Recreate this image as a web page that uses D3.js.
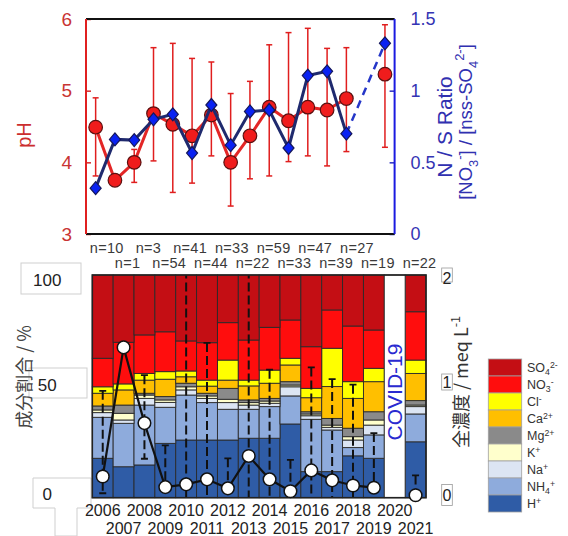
<!DOCTYPE html>
<html><head><meta charset="utf-8">
<script src="https://cdn.jsdelivr.net/npm/d3@7"></script>
<style>
body{margin:0;background:#fff;}
svg{display:block;font-family:"Liberation Sans",Arial,sans-serif;}
</style>
</head><body>
<svg id="c" width="568" height="536"></svg>
<script>
// ---------------- DATA ----------------
const years = ["2006","2007","2008","2009","2010","2011","2012","2013","2014","2015","2016","2017","2018","2019","2020","2021"];
const nCounts = [10,1,3,54,41,44,33,22,59,33,47,39,27,19,null,22];

// top panel
const pH     = [4.49,3.75,4.00,4.68,4.53,4.37,4.66,4.00,4.37,4.77,4.58,4.77,4.73,4.89,null,5.23];
const pHHigh = [4.90,null,4.18,5.60,5.66,5.45,5.40,4.96,5.13,5.64,5.81,5.87,5.59,5.60,null,5.92];
const pHLow  = [3.81,null,3.72,4.02,3.58,3.71,4.09,3.39,3.77,3.81,4.01,4.09,3.95,4.15,null,4.21];
const nsRatio = [0.32,0.66,0.655,0.80,0.835,0.565,0.90,0.62,0.855,0.865,0.60,1.105,1.135,0.70,null,1.33];
const pHTicks = [3,4,5,6];
const ratioTicks = [0,0.5,1,1.5];

// bottom panel: composition (%)
const H   = [17.7,13.9,14.7,24.4,25.9,25.9,25.9,26.7,26.7,33.1,11.7,11.7,18.8,17.7,null,25.1];
const NH4 = [18.4,19.5,26.9,16.2,20.2,16.8,13.8,13.0,14.2,12.6,23.5,18.7,3.7,10.5,null,12.5];
const Na  = [2.1,1.5,3.0,2.2,2.3,1.9,3.0,1.9,1.5,4.1,1.6,1.2,3.4,4.4,null,3.3];
const K   = [1.2,3.0,1.5,1.1,1.4,1.1,1.5,1.1,1.0,0.8,0.8,1.0,1.5,2.3,null,0.7];
const Mg  = [1.8,3.7,0.8,1.5,1.6,1.2,4.9,1.2,1.2,1.5,1.0,3.0,3.8,3.7,null,2.0];
const Ca  = [5.7,6.8,5.9,7.8,2.9,3.2,3.7,6.3,6.8,7.5,6.3,14.3,13.4,13.5,null,12.2];
const Cl  = [2.9,2.7,3.0,3.4,2.6,2.7,9.0,2.6,5.9,3.0,4.2,17.2,7.5,6.0,null,6.0];
const NO3 = [12.8,18.7,17.3,17.9,13.5,16.8,16.8,18.0,19.2,17.2,18.7,17.2,25.0,17.2,null,21.7];
const SO4 = [37.4,30.2,26.9,25.5,29.6,30.4,21.4,29.2,23.5,20.2,32.2,15.7,22.9,24.7,null,16.5];
// total concentration (meq/L)
const total   = [0.19,1.35,0.67,0.095,0.12,0.165,0.084,0.375,0.165,0.058,0.245,0.156,0.11,0.09,null,0.022];
const totHigh = [0.96,null,1.10,0.47,2.4,1.39,0.354,2.4,1.15,0.34,1.17,1.065,1.015,0.58,null,0.20];
const totLow  = [0.04,null,0.35,0,0,0,0,0,0,0,0,0,0,0,null,0];
const pctTicks = [0,50,100];
const totTicks = [0,1,2];

const ionKeys = ["H","NH4","Na","K","Mg","Ca","Cl","NO3","SO4"];
const ionData = {H,NH4,Na,K,Mg,Ca,Cl,NO3,SO4};
const ionColors = {SO4:"#c40e14",NO3:"#ff0d0d",Cl:"#ffff00",Ca:"#ffbf00",Mg:"#8a8a8a",K:"#ffffcc",Na:"#dce5f3",NH4:"#8eabdc",H:"#2f5ca6"};
const ionLabels = {
  SO4:[{t:"SO"},{t:"4",sub:1},{t:"2-",sup:1}],
  NO3:[{t:"NO"},{t:"3",sub:1},{t:"-",sup:1}],
  Cl:[{t:"Cl"},{t:"-",sup:1}],
  Ca:[{t:"Ca"},{t:"2+",sup:1}],
  Mg:[{t:"Mg"},{t:"2+",sup:1}],
  K:[{t:"K"},{t:"+",sup:1}],
  Na:[{t:"Na"},{t:"+",sup:1}],
  NH4:[{t:"NH"},{t:"4",sub:1},{t:"+",sup:1}],
  H:[{t:"H"},{t:"+",sup:1}]
};

// ---------------- HELPERS ----------------
const svg = d3.select("#c");
function rich(textSel, parts, fs, subK=0.3, supK=0.42){
  let shift = 0;
  parts.forEach(p=>{
    const ts = textSel.append("tspan").text(p.t);
    let target = 0;
    if(p.sub){ target = subK*fs; ts.attr("font-size", fs*0.7); }
    else if(p.sup){ target = -supK*fs; ts.attr("font-size", fs*0.7); }
    ts.attr("dy", target - shift);
    shift = target;
  });
}
const idx = d3.range(years.length);

// ---------------- TOP PANEL ----------------
const xT = d3.scaleBand().domain(years).range([86,394.6]).padding(0);
const yPH = d3.scaleLinear().domain([3,6]).range([234,19]);
const yR  = d3.scaleLinear().domain([0,1.5]).range([234,19]);
const cxT = i => xT(years[i]) + xT.bandwidth()/2;
const red = "#d42a2a", blue = "#2b2fc0";

const topG = svg.append("g");
const axL = topG.append("g").attr("transform","translate(86,0)")
  .call(d3.axisLeft(yPH).tickValues(pHTicks).tickSize(-5).tickPadding(14).tickFormat(d3.format("d")));
axL.select(".domain").remove();
axL.selectAll("line").attr("stroke",red).attr("stroke-width",1.5);
axL.selectAll("text").attr("fill","#c93434").attr("font-size",19);
const axR = topG.append("g").attr("transform","translate(394.6,0)")
  .call(d3.axisRight(yR).tickValues(ratioTicks).tickSize(-5).tickPadding(16).tickFormat(d=>String(d)));
axR.select(".domain").remove();
axR.selectAll("line").attr("stroke",blue).attr("stroke-width",1.5);
axR.selectAll("text").attr("fill","#3434b4").attr("font-size",18);

topG.append("line").attr("x1",86).attr("x2",394.6).attr("y1",19).attr("y2",19).attr("stroke","#111").attr("stroke-width",2);
topG.append("line").attr("x1",86).attr("x2",394.6).attr("y1",234).attr("y2",234).attr("stroke","#111").attr("stroke-width",2);
topG.append("line").attr("x1",86).attr("x2",86).attr("y1",19).attr("y2",234).attr("stroke","#e02020").attr("stroke-width",2);
topG.append("line").attr("x1",394.6).attr("x2",394.6).attr("y1",19).attr("y2",234).attr("stroke","#1a1ae0").attr("stroke-width",2);

// pH error bars
const eb = idx.filter(i=>pHHigh[i]!=null);
topG.append("g").selectAll("g").data(eb).join("g").each(function(i){
  const g=d3.select(this), x=cxT(i);
  g.append("line").attr("x1",x).attr("x2",x).attr("y1",yPH(pHHigh[i])).attr("y2",yPH(pHLow[i])).attr("stroke","#e01e1e").attr("stroke-width",1.5);
  [pHHigh[i],pHLow[i]].forEach(v=>g.append("line").attr("x1",x-3).attr("x2",x+3).attr("y1",yPH(v)).attr("y2",yPH(v)).attr("stroke","#e01e1e").attr("stroke-width",1.5));
});
const pIdx = idx.filter(i=>pH[i]!=null && i<14);
topG.append("path").attr("d",d3.line().x(i=>cxT(i)).y(i=>yPH(pH[i]))(pIdx))
  .attr("fill","none").attr("stroke","#e32626").attr("stroke-width",3);
topG.append("g").selectAll("circle").data(idx.filter(i=>pH[i]!=null)).join("circle")
  .attr("cx",i=>cxT(i)).attr("cy",i=>yPH(pH[i])).attr("r",6.8)
  .attr("fill","#f01c1c").attr("stroke","#5a1010").attr("stroke-width",1.2);
const rIdx = idx.filter(i=>nsRatio[i]!=null && i<14);
topG.append("path").attr("d",d3.line().x(i=>cxT(i)).y(i=>yR(nsRatio[i]))(rIdx))
  .attr("fill","none").attr("stroke","#1f2a6e").attr("stroke-width",3);
topG.append("path").attr("d",d3.line().x(i=>cxT(i)).y(i=>yR(nsRatio[i]))([13,15]))
  .attr("fill","none").attr("stroke","#2536c8").attr("stroke-width",2.5).attr("stroke-dasharray","8,6");
topG.append("g").selectAll("path").data(idx.filter(i=>nsRatio[i]!=null)).join("path")
  .attr("transform",i=>`translate(${cxT(i)},${yR(nsRatio[i])})`)
  .attr("d","M0,-6.5L5.5,0L0,6.5L-5.5,0Z")
  .attr("fill","#0a22f2").attr("stroke","#15175a").attr("stroke-width",1.2);

topG.append("text").attr("transform","translate(31,135) rotate(-90)").attr("text-anchor","middle")
  .attr("fill","#cc2e2e").attr("font-size",20).text("pH");
topG.append("text").attr("transform","translate(452,127) rotate(-90)").attr("text-anchor","middle")
  .attr("fill","#3030b0").attr("font-size",21).text("N / S Ratio");
{
  const t = topG.append("text").attr("transform","translate(472,122) rotate(-90)").attr("text-anchor","middle")
    .attr("fill","#3030b0").attr("font-size",18.5);
  rich(t,[{t:"[NO"},{t:"3",sub:1},{t:"-",sup:1},{t:"] / [nss-SO"},{t:"4",sub:1},{t:"2-",sup:1},{t:"]"}],18.5);
}

// ---------------- n labels ----------------
const xB = d3.scaleBand().domain(years).range([92.3,426]).padding(0);
const cxB = i => xB(years[i]) + xB.bandwidth()/2;
svg.append("g").selectAll("text").data(idx.filter(i=>nCounts[i]!=null)).join("text")
  .attr("x",i=>cxB(i)+4).attr("y",i=>i%2===0?253:268).attr("text-anchor","middle")
  .attr("font-size",14.5).attr("letter-spacing",0.3).attr("fill","#3a3a3a").text(i=>"n="+nCounts[i]);

// ---------------- BOTTOM PANEL ----------------
const yP = d3.scaleLinear().domain([0,100]).range([497.7,275]);
const yTot = d3.scaleLinear().domain([0,2]).range([497.7,275]);
const bot = svg.append("g");

const boxStyle = s=>s.attr("fill","#fff").attr("stroke","#cfcfcf").attr("stroke-width",1);
bot.append("rect").attr("x",21).attr("y",263).attr("width",60).attr("height",31).call(boxStyle);
bot.append("rect").attr("x",29).attr("y",368).attr("width",58).attr("height",30).call(boxStyle);
bot.append("path").attr("d","M33,478H91V508H77V536H55V508H33Z").call(boxStyle);
[[275,14],[382,16],[495,21]].forEach(([cy,h])=>bot.append("rect").attr("x",441.7).attr("y",cy-h/2).attr("width",10.6).attr("height",h)
  .attr("fill","#fff").attr("stroke","#9a9a9a").attr("stroke-width",0.8));

const rows = idx.map(i=>{const o={year:years[i]}; ionKeys.forEach(k=>o[k]=ionData[k][i]==null?0:ionData[k][i]); return o;});
const series = d3.stack().keys(ionKeys)(rows);
bot.append("g").selectAll("g").data(series).join("g").attr("fill",s=>ionColors[s.key])
  .selectAll("rect").data(s=>s.filter((d,i)=>ionData[s.key][i]!=null)).join("rect")
  .attr("x",d=>xB(d.data.year)).attr("width",xB.bandwidth())
  .attr("y",d=>yP(d[1])).attr("height",d=>yP(d[0])-yP(d[1]))
  .attr("stroke","#2a2a2a").attr("stroke-width",0.9);

const covidIdx = idx.filter(i=>H[i]==null);
covidIdx.forEach(i=>{
  bot.append("rect").attr("x",xB(years[i])).attr("width",xB.bandwidth()).attr("y",yP(100)).attr("height",yP(0)-yP(100))
    .attr("fill","#fff").attr("stroke","#2a2a2a").attr("stroke-width",0.9);
  bot.append("text").attr("transform",`translate(${cxB(i)+7},${392}) rotate(-90)`).attr("text-anchor","middle")
    .attr("fill","#2a2ad0").attr("font-size",21).text("COVID-19");
});

svg.append("clipPath").attr("id","pc").append("rect").attr("x",92.3).attr("y",275).attr("width",333.7).attr("height",222.7);
const ebG = bot.append("g").attr("clip-path","url(#pc)");
idx.filter(i=>totHigh[i]!=null).forEach(i=>{
  const x=cxB(i);
  ebG.append("line").attr("x1",x).attr("x2",x).attr("y1",yTot(totHigh[i])).attr("y2",yTot(totLow[i]))
    .attr("stroke","#111").attr("stroke-width",2).attr("stroke-dasharray","9,4");
  ebG.append("line").attr("x1",x-3.5).attr("x2",x+3.5).attr("y1",yTot(totHigh[i])).attr("y2",yTot(totHigh[i])).attr("stroke","#111").attr("stroke-width",1.8);
  if(totLow[i]>0) ebG.append("line").attr("x1",x-3.5).attr("x2",x+3.5).attr("y1",yTot(totLow[i])).attr("y2",yTot(totLow[i])).attr("stroke","#111").attr("stroke-width",1.8);
});

bot.append("rect").attr("x",92.3).attr("y",275).attr("width",333.7).attr("height",222.7)
  .attr("fill","none").attr("stroke","#222").attr("stroke-width",1.6);

const tIdx = idx.filter(i=>total[i]!=null && i<14);
bot.append("path").attr("d",d3.line().x(i=>cxB(i)).y(i=>yTot(total[i]))(tIdx))
  .attr("fill","none").attr("stroke","#111").attr("stroke-width",2.2);
bot.append("g").selectAll("circle").data(idx.filter(i=>total[i]!=null)).join("circle")
  .attr("cx",i=>cxB(i)).attr("cy",i=>yTot(total[i])).attr("r",6.3)
  .attr("fill","#fff").attr("stroke","#111").attr("stroke-width",1.5);

const axPL = bot.append("g").attr("transform","translate(92.3,0)")
  .call(d3.axisLeft(yP).tickValues(pctTicks).tickSize(0).tickFormat(d3.format("d")));
axPL.select(".domain").remove();
axPL.selectAll("text").attr("x",-45).attr("text-anchor","middle").attr("font-size",17).attr("fill","#222")
  .attr("dy",d=>d===100?"0.6em":d===0?"0.12em":"0.22em");
const axPR = bot.append("g").attr("transform","translate(426,0)")
  .call(d3.axisRight(yTot).tickValues(totTicks).tickSize(0).tickFormat(d3.format("d")));
axPR.select(".domain").remove();
axPR.selectAll("text").attr("x",21).attr("text-anchor","middle").attr("font-size",16).attr("fill","#222")
  .attr("dy",d=>d===2?"0.5em":d===0?"0.2em":"0.1em");
const axB = bot.append("g").attr("transform","translate(0,497.7)")
  .call(d3.axisBottom(xB).tickSize(0).tickPadding(7));
axB.select(".domain").remove();
axB.selectAll("text").attr("font-size",16).attr("fill","#222")
  .attr("y",(d,i)=>i%2===0?7:25);

bot.append("text").attr("transform","translate(31,377) rotate(-90)").attr("text-anchor","middle")
  .attr("font-family","'Noto Sans CJK JP',sans-serif").attr("font-size",18).attr("fill","#444").text("成分割合 / %");
{
  const t = bot.append("text").attr("transform","translate(468,382) rotate(-90)").attr("text-anchor","middle")
    .attr("font-family","'Noto Sans CJK JP',sans-serif").attr("font-size",18).attr("fill","#333");
  rich(t,[{t:"全濃度 / meq L"},{t:"-1",sup:1}],18);
}

// legend
const lg = svg.append("g");
const legKeys = ionKeys.slice().reverse();
legKeys.forEach((k,j)=>{
  const y0 = 359 + j*17;
  lg.append("rect").attr("x",488.3).attr("y",y0).attr("width",33.4).attr("height",17)
    .attr("fill",ionColors[k]).attr("stroke","#a0a0a0").attr("stroke-width",0.8);
  const t = lg.append("text").attr("x",527).attr("y",y0+13).attr("font-size",12.5).attr("fill","#333");
  rich(t, ionLabels[k], 12.5, 0.2, 0.36);
});
</script>
</body></html>
